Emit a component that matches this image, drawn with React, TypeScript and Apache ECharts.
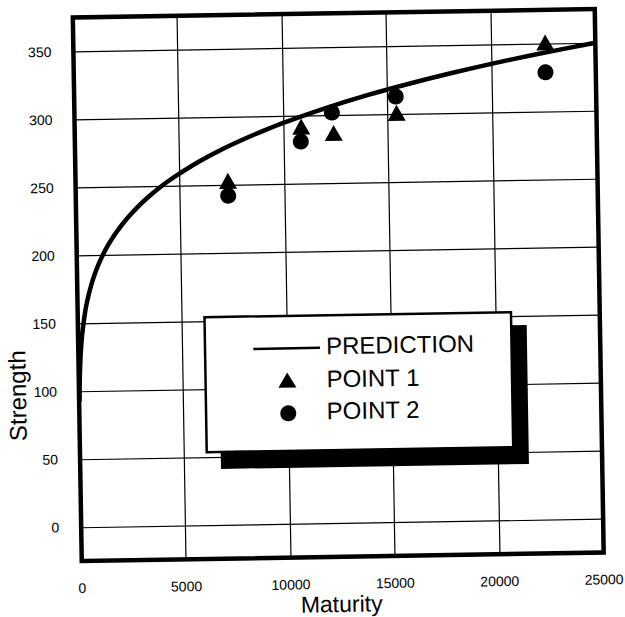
import React, { useEffect, useRef } from "react";
import * as echarts from "echarts";

// ---- data ----
const predictionMaturity = [20, 50, 100, 150, 200, 300, 400, 550, 700, 850, 1000, 1250, 1500, 1750, 2000, 2500, 3000, 3500, 4000, 4500, 5000, 6000, 7000, 8000, 9000, 10000, 12000, 14000, 16000, 18000, 20000, 22000, 25000];
const predictionStrength = [92.3, 109.5, 124.7, 134.3, 141.9, 152.8, 161.6, 171.4, 179.4, 186.0, 191.8, 199.9, 206.9, 212.9, 218.3, 227.6, 235.5, 242.4, 248.6, 254.1, 259.1, 268.1, 276.0, 282.9, 289.2, 295.0, 305.2, 314.2, 322.1, 329.3, 335.9, 341.9, 350.2];

const point1Maturity = [7300, 10850, 12400, 15430, 22600];
const point1Strength = [253, 292, 287, 301, 351];

const point2Maturity = [7300, 10820, 12330, 15400, 22590];
const point2Strength = [242, 281, 302, 313, 329];

const xTickLabels = ["0", "5000", "10000", "15000", "20000", "25000"];
const yTickLabels = ["0", "50", "100", "150", "200", "250", "300", "350"];
const seriesNames = ["PREDICTION", "POINT 1", "POINT 2"];
const xTitle = "Maturity";
const yTitle = "Strength";

const FONT = "'Liberation Sans', Arial, Helvetica, sans-serif";

function zip(xs: number[], ys: number[]) {
  return xs.map((x, i) => [x, ys[i]]);
}

export default function App() {
  const ref = useRef<HTMLDivElement>(null);

  useEffect(() => {
    if (!ref.current) return;
    const chart = echarts.init(ref.current, null, { renderer: "svg" });
    const option: any = {
      animation: false,
      backgroundColor: "#ffffff",
      grid: {
        left: 77.25,
        top: 13.25,
        width: 522,
        height: 543.5,
        show: true,
        borderColor: "#000",
        borderWidth: 4.5,
        backgroundColor: "transparent",
        containLabel: false,
      },
      xAxis: {
        type: "value",
        min: 0,
        max: 25000,
        interval: 5000,
        axisLine: { show: false },
        axisTick: { show: false },
        splitLine: { show: true, lineStyle: { color: "#000", width: 1.2 } },
        axisLabel: {
          margin: 20,
          fontSize: 14,
          fontFamily: FONT,
          color: "#000",
          formatter: (v: number) => {
            const idx = Math.round(v / 5000);
            return xTickLabels[idx] ?? String(v);
          },
        },
      },
      yAxis: {
        type: "value",
        min: -25,
        max: 375,
        splitNumber: 8,
        minInterval: 50,
        maxInterval: 50,
        axisLine: { show: false },
        axisTick: { show: false },
        splitLine: { show: true, lineStyle: { color: "#000", width: 1.2 } },
        axisLabel: {
          margin: 22,
          fontSize: 14,
          fontFamily: FONT,
          color: "#000",
          showMinLabel: false,
          showMaxLabel: false,
          formatter: (v: number) => {
            const idx = Math.round(v / 50);
            return yTickLabels[idx] ?? "";
          },
        },
      },
      series: [
        {
          name: seriesNames[0],
          type: "line",
          data: zip(predictionMaturity, predictionStrength),
          showSymbol: false,
          smooth: 0.3,
          lineStyle: { color: "#000", width: 4.5, opacity: 1 },
          z: 3,
        },
        {
          name: seriesNames[1],
          type: "scatter",
          data: zip(point1Maturity, point1Strength),
          symbol: "triangle",
          symbolSize: [18, 16],
          itemStyle: { color: "#000", opacity: 1 },
          z: 4,
        },
        {
          name: seriesNames[2],
          type: "scatter",
          data: zip(point2Maturity, point2Strength),
          symbol: "circle",
          symbolSize: 16,
          itemStyle: { color: "#000", opacity: 1 },
          z: 4,
        },
      ],
      graphic: [
        {
          type: "text",
          x: 15.7,
          y: 390.5,
          rotation: Math.PI / 2,
          z: 50,
          style: {
            text: yTitle,
            fontSize: 24,
            fontFamily: FONT,
            fill: "#000",
            textAlign: "center",
            textVerticalAlign: "middle",
          },
        },
        {
          type: "text",
          x: 336.4,
          y: 604,
          z: 50,
          style: {
            text: xTitle,
            fontSize: 23,
            fontFamily: FONT,
            fill: "#000",
            textAlign: "center",
            textVerticalAlign: "middle",
          },
        },
        // legend box with hard shadow
        {
          type: "rect",
          z: 100,
          shape: { x: 218, y: 328, width: 308, height: 139 },
          style: { fill: "#000" },
        },
        {
          type: "rect",
          z: 101,
          shape: { x: 204, y: 315, width: 306.5, height: 135 },
          style: { fill: "#fff", stroke: "#000", lineWidth: 2.5 },
        },
        {
          type: "line",
          z: 102,
          shape: { x1: 252.3, y1: 347.5, x2: 319, y2: 347.5 },
          style: { stroke: "#000", lineWidth: 2.5 },
        },
        {
          type: "text",
          z: 102,
          x: 325,
          y: 345.5,
          style: {
            text: seriesNames[0],
            fontSize: 24,
            fontFamily: FONT,
            fill: "#000",
            textAlign: "left",
            textVerticalAlign: "middle",
          },
        },
        {
          type: "polygon",
          z: 102,
          shape: {
            points: [
              [285.75, 371.7],
              [294.75, 386.7],
              [276.75, 386.7],
            ],
          },
          style: { fill: "#000" },
        },
        {
          type: "text",
          z: 102,
          x: 325,
          y: 378.5,
          style: {
            text: seriesNames[1],
            fontSize: 24,
            fontFamily: FONT,
            fill: "#000",
            textAlign: "left",
            textVerticalAlign: "middle",
          },
        },
        {
          type: "circle",
          z: 102,
          shape: { cx: 286.2, cy: 412.5, r: 8 },
          style: { fill: "#000" },
        },
        {
          type: "text",
          z: 102,
          x: 324.6,
          y: 410.5,
          style: {
            text: seriesNames[2],
            fontSize: 24,
            fontFamily: FONT,
            fill: "#000",
            textAlign: "left",
            textVerticalAlign: "middle",
          },
        },
      ],
    };
    chart.setOption(option);
    return () => chart.dispose();
  }, []);

  return (
    <div
      style={{
        position: "fixed",
        left: 0,
        top: 0,
        width: 625,
        height: 617,
        overflow: "hidden",
        background: "#fff",
      }}
    >
      <div
        ref={ref}
        style={{
          width: 625,
          height: 617,
          transform: "rotate(-0.94deg)",
          transformOrigin: "338.25px 285px",
        }}
      />
    </div>
  );
}
